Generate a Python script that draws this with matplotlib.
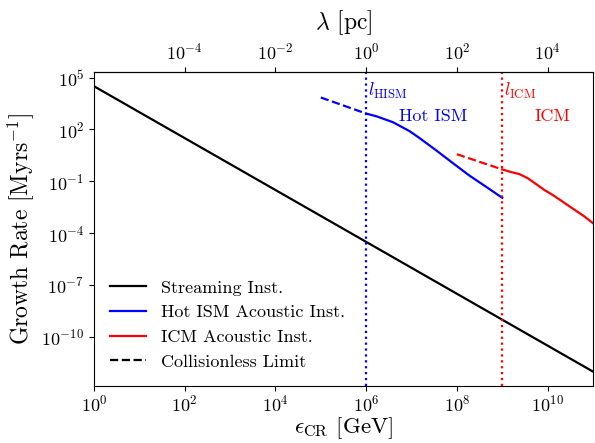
import numpy as np
import matplotlib
matplotlib.use("Agg")
import matplotlib.pyplot as plt
from matplotlib.ticker import NullLocator

plt.rcParams['font.family'] = 'serif'
plt.rcParams['font.serif'] = ['cmr10']
plt.rcParams['mathtext.fontset'] = 'cm'
plt.rcParams['axes.unicode_minus'] = False
plt.rcParams['axes.formatter.use_mathtext'] = True

# Data
stream_eps = [1.0, 1e11]
stream_rate = [10**4.5, 1e-12]

hism_cl_eps = [1e5, 1e6]
hism_cl_rate = [7079.0, 832.0]
hism_eps = [1e6, 1.7e6, 3.9e6, 9.1e6, 1.51e7, 3.55e7, 8.1e7, 1.9e8, 4.5e8, 1e9]
hism_rate = [832.0, 575.0, 263.0, 79.4, 31.6, 6.03, 1.15, 0.214, 0.0468, 0.0112]

icm_cl_eps = [1e8, 1e9]
icm_cl_rate = [3.7, 0.49]
icm_eps = [1e9, 1.58e9, 2.4e9, 3.7e9, 5.6e9, 8.5e9, 1.32e10, 2.0e10, 3.9e10, 6.5e10, 1e11]
icm_rate = [0.49, 0.343, 0.263, 0.148, 0.0692, 0.0316, 0.0158, 0.0076, 0.00229, 0.00093, 0.00038]

l_hism = 1e6
l_icm = 1e9
lam_per_eps = 1e-6  # pc per GeV

fig = plt.figure(figsize=(5.95, 4.43), dpi=100)
ax = fig.add_axes([0.158, 0.129, 0.8386, 0.7085])

ax.plot(stream_eps, stream_rate, color='black', lw=1.6, label='Streaming Inst.')
ax.plot(hism_eps, hism_rate, color='blue', lw=1.6, label='Hot ISM Acoustic Inst.')
ax.plot(hism_cl_eps, hism_cl_rate, color='blue', lw=1.6, ls='--')
ax.plot(icm_eps, icm_rate, color='red', lw=1.6, label='ICM Acoustic Inst.')
ax.plot(icm_cl_eps, icm_cl_rate, color='red', lw=1.6, ls='--')
ax.plot([], [], color='black', lw=1.6, ls='--', label='Collisionless Limit')

ax.axvline(l_hism, color='blue', ls=':', lw=1.6)
ax.axvline(l_icm, color='red', ls=':', lw=1.6)

ax.set_xscale('log')
ax.set_yscale('log')
ax.set_xlim(1, 1e11)
ax.set_ylim(10**-12.825, 10**5.325)

ax.set_xticks([10.0**k for k in range(0, 12, 2)])
ax.set_yticks([10.0**k for k in range(-10, 6, 3)])
ax.xaxis.set_minor_locator(NullLocator())
ax.yaxis.set_minor_locator(NullLocator())
ax.tick_params(labelsize=13)
ax.tick_params(axis='x', pad=2.5)

ax.set_xlabel(r'$\epsilon_{\rm CR}$ [GeV]', fontsize=16.5, labelpad=0)
ax.set_ylabel(r'Growth Rate [Myrs$^{-1}$]', fontsize=17)

sec = ax.secondary_xaxis('top', functions=(lambda x: x * lam_per_eps, lambda x: x / lam_per_eps))
sec.set_xticks([10.0**k for k in range(-4, 6, 2)])
sec.xaxis.set_minor_locator(NullLocator())
sec.tick_params(labelsize=13)
sec.set_xlabel(r'$\lambda$ [pc]', fontsize=17, labelpad=9)

ax.text(1.1e6, 10**4.2, r'$l_{\rm HISM}$', color='blue', fontsize=13, va='center', ha='left')
ax.text(1.1e9, 10**4.2, r'$l_{\rm ICM}$', color='red', fontsize=13, va='center', ha='left')
ax.text(10**7.47, 10**2.77, 'Hot ISM', color='blue', fontsize=13, va='center', ha='center')
ax.text(10**10.1, 10**2.77, 'ICM', color='red', fontsize=13, va='center', ha='center')

ax.legend(loc='lower left', frameon=False, fontsize=13, bbox_to_anchor=(0.0, 0.0))

fig.savefig('out.png', dpi=100)
